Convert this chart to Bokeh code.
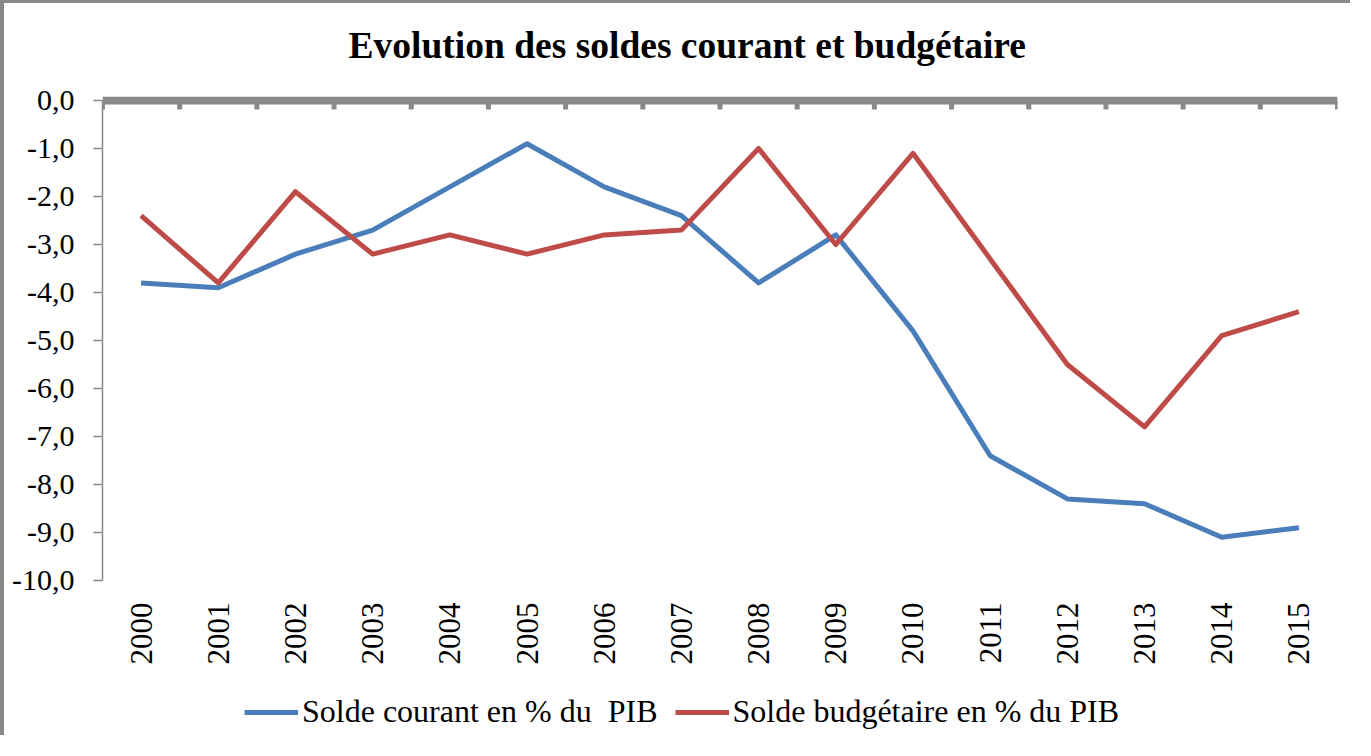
import math
from bokeh.plotting import figure
from bokeh.models import Range1d, FixedTicker, Legend, LegendItem, Span, Title
from bokeh.core.properties import value
from bokeh.embed import file_html
from bokeh.resources import INLINE

years = ["2000", "2001", "2002", "2003", "2004", "2005", "2006", "2007",
         "2008", "2009", "2010", "2011", "2012", "2013", "2014", "2015"]
solde_courant = [-3.8, -3.9, -3.2, -2.7, -1.8, -0.9, -1.8, -2.4,
                 -3.8, -2.8, -4.8, -7.4, -8.3, -8.4, -9.1, -8.9]
solde_budgetaire = [-2.4, -3.8, -1.9, -3.2, -2.8, -3.2, -2.8, -2.7,
                    -1.0, -3.0, -1.1, -3.3, -5.5, -6.8, -4.9, -4.4]
y_ticks = [-10, -9, -8, -7, -6, -5, -4, -3, -2, -1, 0]
y_labels = ["-10,0", "-9,0", "-8,0", "-7,0", "-6,0", "-5,0", "-4,0", "-3,0", "-2,0", "-1,0", "0,0"]
title_text = "Evolution des soldes courant et budgétaire"
label_courant = "Solde courant en % du  PIB"
label_budget = "Solde budgétaire en % du PIB"

FONT = "Liberation Serif"
GRAY = "#898989"
BLUE = "#4A7EBB"
RED = "#BE4B48"

W, H = 1350, 735
TOP = 93
PX_PER_UNIT = 48.0
TOP_PAD_PX = 4

xs = list(range(len(years)))
y_lo, y_hi = min(y_ticks), max(y_ticks)
y_view_top = y_hi + TOP_PAD_PX / PX_PER_UNIT
y_view_bottom = y_view_top - (H - TOP) / PX_PER_UNIT

p = figure(width=W, height=H, output_backend="svg", toolbar_location=None,
           x_range=Range1d(-0.5, len(years) - 0.5), y_range=Range1d(y_view_bottom, y_view_top),
           x_axis_location=None,
           min_border_left=98, min_border_right=17, min_border_top=TOP, min_border_bottom=0)
p.styles = {"border-left": f"4px solid {GRAY}", "border-top": f"3px solid {GRAY}"}

# padding given as (left, right, top, bottom)
p.title = Title(text=title_text, align="left", text_font=FONT, text_font_size="37.5px",
                text_font_style="bold", text_color="black", offset=246, standoff=0,
                padding=(0, 0, 0, 31))

p.outline_line_color = None
p.xgrid.visible = False
p.ygrid.visible = False
p.background_fill_color = "white"
p.border_fill_color = "white"

# left axis limited to -10..0
ya = p.yaxis[0]
ya.ticker = FixedTicker(ticks=y_ticks)
ya.bounds = (y_lo, y_hi)
ya.major_label_overrides = {t: l for t, l in zip(y_ticks, y_labels)}
ya.axis_line_color = GRAY
ya.axis_line_width = 1.5
ya.major_tick_line_color = GRAY
ya.major_tick_line_width = 1.5
ya.major_tick_out = 9
ya.major_tick_in = 0
ya.minor_tick_line_color = None
ya.major_label_standoff = 19
ya.major_label_text_font = FONT
ya.major_label_text_font_size = "30px"
ya.major_label_text_color = "black"

# thick horizontal axis line at 0 with ticks at category boundaries
p.add_layout(Span(location=y_hi, dimension="width", line_color=GRAY, line_width=8))
bounds = [i - 0.5 for i in range(len(years) + 1)]
tick_len = 9 / PX_PER_UNIT
p.segment(x0=bounds, y0=[y_hi] * len(bounds), x1=bounds, y1=[y_hi - tick_len] * len(bounds),
          line_color=GRAY, line_width=5)

# category labels below the -10 line, rotated
p.text(x=xs, y=[y_lo] * len(xs), text=years, angle=math.pi / 2,
       text_align="right", text_baseline="middle", y_offset=22,
       text_font=value(FONT), text_font_size="31px", text_color="black")

r1 = p.line(xs, solde_courant, line_color=BLUE, line_width=5, line_join="round")
r2 = p.line(xs, solde_budgetaire, line_color=RED, line_width=5, line_join="round")

legend = Legend(items=[LegendItem(label=label_courant, renderers=[r1]),
                       LegendItem(label=label_budget, renderers=[r2])],
                orientation="horizontal", location=(142, 8),
                glyph_width=54, glyph_height=30, label_height=30, label_standoff=4, spacing=17,
                padding=0, margin=0, border_line_color=None, background_fill_alpha=0,
                label_text_font=FONT, label_text_font_size="32px", label_text_color="black")
p.add_layout(legend, "center")

open("out.html", "w").write(file_html(p, INLINE))
